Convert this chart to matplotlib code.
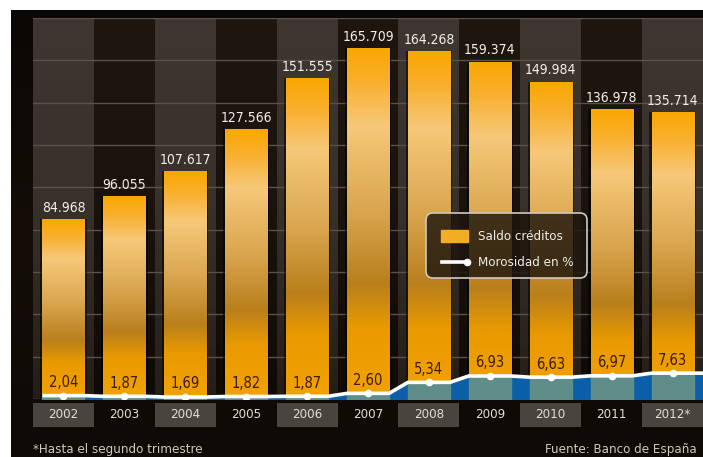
import numpy as np
import matplotlib
matplotlib.use("Agg")
import matplotlib.pyplot as plt
from matplotlib import font_manager as fm
from matplotlib.patches import Rectangle, FancyBboxPatch
from matplotlib.colors import LinearSegmentedColormap

# prefer a condensed sans face when one is installed
_cond = fm.findfont(fm.FontProperties(family="DejaVu Sans", stretch="condensed"))
if "Condensed" in _cond:
    plt.rcParams['font.family'] = ['DejaVu Sans']
    plt.rcParams['font.stretch'] = 'condensed'
    FS = 1.0
else:
    plt.rcParams['font.family'] = ['Roboto', 'DejaVu Sans']
    FS = 0.9

# Data
years = ["2002", "2003", "2004", "2005", "2006", "2007", "2008", "2009", "2010", "2011", "2012*"]
saldo = [84.968, 96.055, 107.617, 127.566, 151.555, 165.709, 164.268, 159.374, 149.984, 136.978, 135.714]
saldo_labels = ["84.968", "96.055", "107.617", "127.566", "151.555", "165.709",
                "164.268", "159.374", "149.984", "136.978", "135.714"]
morosidad = [2.04, 1.87, 1.69, 1.82, 1.87, 2.60, 5.34, 6.93, 6.63, 6.97, 7.63]
morosidad_labels = ["2,04", "1,87", "1,69", "1,82", "1,87", "2,60", "5,34", "6,93", "6,63", "6,97", "7,63"]

W, H = 703, 457
fig = plt.figure(figsize=(W / 100, H / 100), dpi=100)
fig.patch.set_facecolor("white")

def px_axes(x0, y0, x1, y1, **kw):
    return fig.add_axes([x0 / W, 1 - y1 / H, (x1 - x0) / W, (y1 - y0) / H], **kw)

# dark panel behind everything
bg = px_axes(11, 10, 703, 457)
bg.set_xlim(0, 1); bg.set_ylim(0, 1); bg.axis("off")
grad = np.linspace(0, 1, 256).reshape(-1, 1)
bg_cmap = LinearSegmentedColormap.from_list("bg", ["#0b0704", "#140d08", "#0f0a06"])
bg.imshow(grad, cmap=bg_cmap, extent=[0, 1, 0, 1], aspect="auto")

n = len(years)
x = np.arange(n)
bw = 0.69

ax = px_axes(33, 18, 703, 399)
ax.set_zorder(2)
ax.set_facecolor("none")
for s in ax.spines.values():
    s.set_visible(False)
ax.set_xticks([]); ax.set_yticks([])

# alternating column backgrounds
col_cmap_light = LinearSegmentedColormap.from_list("cl", ["#241d18", "#37302b", "#3d3631"])
col_cmap_dark = LinearSegmentedColormap.from_list("cd", ["#100a06", "#1a120c", "#1e160f"])
for i in range(n):
    cm = col_cmap_light if i % 2 == 0 else col_cmap_dark
    ax.imshow(grad, cmap=cm, extent=[i - 0.5, i + 0.5, 0, 180], aspect="auto",
              origin="lower", zorder=0)

# horizontal grid
for g in range(0, 181, 20):
    ax.axhline(g, color="#5a524a", lw=1.0, zorder=0.5)

# bars with vertical gradient
bar_cmap = LinearSegmentedColormap.from_list(
    "bar", [(0.0, "#f2a200"), (0.2, "#e99a00"), (0.33, "#b97f1c"), (0.55, "#dba852"),
            (0.78, "#f6c878"), (0.9, "#f9b030"), (1.0, "#faa700")])
ax.bar(x, saldo, width=bw + 0.07, color="#000000", alpha=0.55, zorder=1)
bars = ax.bar(x, saldo, width=bw, color="#f2a400", edgecolor="#9a6200", lw=0.6, zorder=2)
for b, val in zip(bars, saldo):
    im = ax.imshow(grad, cmap=bar_cmap, extent=[b.get_x(), b.get_x() + b.get_width(), 0, val],
                   aspect="auto", origin="lower", zorder=2.1)
    im.set_clip_path(b)

for xi, val, lab in zip(x, saldo, saldo_labels):
    ax.annotate(lab, (xi, val), xytext=(0, 3), textcoords="offset points",
                ha="center", va="bottom", color="#f2eee8", fontsize=10 * FS, zorder=6)

ax.set_xlim(-0.5, n - 0.5)
ax.set_ylim(0, 180)

# morosidad line on its own scale
ax2 = ax.twinx()
ax2.set_zorder(3)
ax2.set_facecolor("none")
for s in ax2.spines.values():
    s.set_visible(False)
ax2.set_yticks([])
ax2.set_xlim(-0.5, n - 0.5)
ax2.set_ylim(1.2, 96)

lx, ly = [], []
for i, v in zip(x, morosidad):
    lx += [i - bw / 2, i + bw / 2]
    ly += [v, v]
lx[-1] = n - 0.5
lx = np.array(lx); ly = np.array(ly)

ax2.fill_between(lx, ly, 1.2, color="#0b5ea8", zorder=1)
for i in range(n):
    ax2.fill_between([i - bw / 2, i + bw / 2], [morosidad[i]] * 2, 1.2, color="#5f8d8a", zorder=1.5)
ax2.plot(lx, ly, color="white", lw=2.6, zorder=3, solid_capstyle="butt")
ax2.plot(x, morosidad, "o", color="white", ms=4.5, zorder=4)
for xi, v, lab in zip(x, morosidad, morosidad_labels):
    ax2.annotate(lab, (xi, v), xytext=(0, 4), textcoords="offset points",
                 ha="center", va="bottom", color="#3e1a02", fontsize=10.5 * FS, zorder=5)

# year band
axy = px_axes(33, 403, 703, 427)
axy.set_xlim(-0.5, n - 0.5); axy.set_ylim(0, 1); axy.axis("off")
for i, yr in enumerate(years):
    if i % 2 == 0:
        axy.add_patch(Rectangle((i - 0.5, 0), 1, 1, color="#4a443f", lw=0))
    axy.text(i, 0.5, yr, ha="center", va="center", color="#e2dcd6", fontsize=9.5 * FS)

# legend
lg = px_axes(420, 208, 594, 284)
lg.set_xlim(420, 594); lg.set_ylim(284, 208); lg.axis("off")
lg.set_zorder(5)
lg.add_patch(FancyBboxPatch((426, 213), 161, 65, boxstyle="round,pad=0,rounding_size=7",
                            facecolor="#1e160e", alpha=0.82, edgecolor="none"))
lg.add_patch(FancyBboxPatch((426, 213), 161, 65, boxstyle="round,pad=0,rounding_size=7",
                            facecolor="none", edgecolor="#cfc8bd", lw=1.2))
lg.add_patch(Rectangle((441, 230), 27, 12, color="#f3ad25"))
lg.text(478, 236.5, "Saldo créditos", color="#f0ece6", fontsize=9.5 * FS, va="center")
lg.plot([442, 466], [262, 262], color="white", lw=2.6)
lg.plot([467], [262], "o", color="white", ms=4.5)
lg.text(478, 262, "Morosidad en %", color="#f0ece6", fontsize=9.5 * FS, va="center")

# footer
fig.text(33 / W, 1 - 449 / H, "*Hasta el segundo trimestre", color="#cfc8c0",
         fontsize=9.5 * FS, va="center", ha="left")
fig.text(697 / W, 1 - 449 / H, "Fuente: Banco de España", color="#cfc8c0",
         fontsize=9.5 * FS, va="center", ha="right")

fig.savefig("out.png", dpi=100, facecolor=fig.get_facecolor())
